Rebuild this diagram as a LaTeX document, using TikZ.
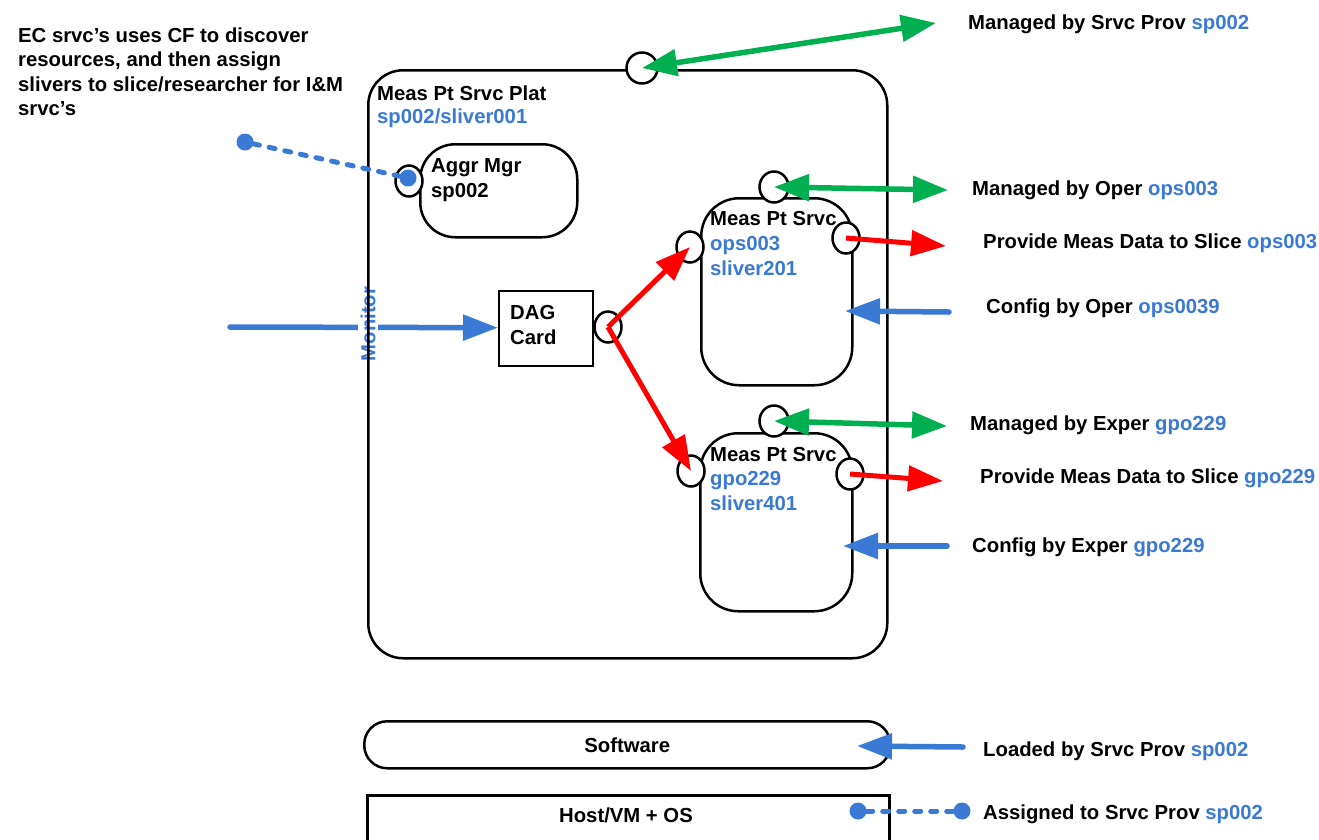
\documentclass[tikz,border=0pt]{standalone}
\usepackage{fontspec}
\setmainfont{Liberation Sans}
\usetikzlibrary{arrows.meta,shapes.geometric}
\definecolor{myblue}{RGB}{58,122,212}
\definecolor{mygreen}{RGB}{0,176,80}
\definecolor{myred}{RGB}{255,0,0}
\begin{document}
\begin{tikzpicture}[x=1pt,y=-1pt,
  lbl/.style={anchor=base west, inner sep=0, font=\fontsize{20.3}{24}\selectfont\bfseries},
  bl/.style={text=myblue},
  box/.style={draw, line width=2.5pt, rounded corners=35pt, inner sep=0, anchor=north west},
  port/.style={draw, fill=white, ellipse, line width=2.5pt, minimum width=27pt, minimum height=31pt, inner sep=0},
  garr/.style={draw=mygreen, line width=5.5pt, {Triangle[length=35pt,width=26pt]}-{Triangle[length=35pt,width=26pt]}},
  rarr/.style={draw=myred, line width=5pt, -{Triangle[length=35pt,width=25pt]}},
  barr/.style={draw=myblue, line width=5.5pt, line cap=round, -{Triangle[length=35pt,width=25pt]}},
  dots/.style={draw=myblue, line width=5pt, line cap=round, dash pattern=on 6pt off 10pt},
  dotend/.style={circle, fill=myblue, minimum size=17pt, inner sep=0},
]
\useasboundingbox (0,0) rectangle (1319,839);
\clip (0,0) rectangle (1319,839);
\fill[white] (0,0) rectangle (1319,839);

% monitor input arrow
\coordinate (monStart) at (230,327);
\node[draw=none, inner sep=0, minimum width=94pt, minimum height=75pt, anchor=north west] (dag) at (498,290) {};
\draw[barr] (monStart) -- (dag.west);
\node[rotate=90, fill=white, inner sep=3pt, text=myblue, font=\fontsize{20.3}{24}\selectfont\bfseries] (mon) at (368,324) {Monitor};

% boxes
\node[box, minimum width=519pt, minimum height=588pt] (main) at (367,69) {};
\node[box, minimum width=157pt, minimum height=93pt] (aggr) at (419,143) {};
\node[box, rounded corners=38pt, minimum width=151pt, minimum height=187pt] (mps1) at (700,197) {};
\node[box, rounded corners=38pt, minimum width=152pt, minimum height=178pt] (mps2) at (699,432) {};
\node[draw, line width=2.2pt, inner sep=0, minimum width=94pt, minimum height=75pt, anchor=north west] (dagbox) at (498,290) {};
\node[box, rounded corners=23pt, minimum width=526pt, minimum height=47pt, font=\fontsize{20.3}{24}\selectfont\bfseries] (sw) at (363,720) {Software};
\node[draw, line width=2.5pt, inner sep=0, minimum width=522pt, minimum height=70pt, anchor=north west] (host) at (366,794) {};
\node[font=\fontsize{20.3}{24}\selectfont\bfseries, inner sep=0] (hostlbl) at (626,815) {Host/VM + OS};

% ports
\node[port, minimum width=31pt] (cTop) at (642,68) {};
\node[port] (cAggr) at (409,181) {};
\node[port, minimum width=29pt] (c1top) at (774,187) {};
\node[port] (c1left) at (690,247) {};
\node[port] (c1right) at (846,238) {};
\node[port, minimum width=29pt] (c2top) at (774,421) {};
\node[port] (c2left) at (691,471) {};
\node[port] (c2right) at (850,474) {};
\node[port] (cDag) at (608,327) {};

% free ends
\coordinate (gTopEnd) at (936,23);
\coordinate (g1End) at (948,190);
\coordinate (g2End) at (947,426);
\coordinate (r1End) at (946,246);
\coordinate (r2End) at (943,481);
\coordinate (b1Start) at (949,312);
\coordinate (b1End) at (845,311);
\coordinate (b2Start) at (947,546);
\coordinate (b2End) at (843,546);
\coordinate (b3Start) at (963,747);
\coordinate (b3End) at (857,746);

% connectors
\draw[garr] (cTop.center) -- (gTopEnd);
\draw[garr] (c1top.center) -- (g1End);
\draw[garr] (c2top.center) -- (g2End);
\draw[rarr] (c1right.center) -- (r1End);
\draw[rarr] (c2right.center) -- (r2End);
\draw[rarr] (cDag.center) -- (c1left.center);
\draw[rarr] (cDag.center) -- (c2left.center);
\draw[barr] (b1Start) -- (b1End);
\draw[barr] (b2Start) -- (b2End);
\draw[barr] (b3Start) -- (b3End);

% dotted assignments
\node[dotend] (dA1) at (245,142) {};
\node[dotend] (dA2) at (408,178) {};
\draw[dots] (dA1) -- (dA2);
\node[dotend] (dH1) at (858,811) {};
\node[dotend] (dH2) at (962,811) {};
\draw[dots] (dH1) -- (dH2);

% labels
\node[lbl] (t1) at (18,42) {EC srvc’s uses CF to discover};
\node[lbl] (t2) at (18,66) {resources, and then assign};
\node[lbl] (t3) at (18,91) {slivers to slice/researcher for I\&M};
\node[lbl] (t4) at (18,115) {srvc’s};

\node[lbl] (tPlat) at (377,100) {Meas Pt Srvc Plat};
\node[lbl, bl] (tPlatId) at (377,123) {sp002/sliver001};
\node[lbl] (tAggr) at (431,172) {Aggr Mgr};
\node[lbl] (tAggrId) at (431,197) {sp002};
\node[lbl] (tM1a) at (710,225) {Meas Pt Srvc};
\node[lbl, bl] (tM1b) at (710,250) {ops003};
\node[lbl, bl] (tM1c) at (710,275) {sliver201};
\node[lbl] (tDag1) at (510,319) {DAG};
\node[lbl] (tDag2) at (510,344) {Card};
\node[lbl] (tM2a) at (710,461) {Meas Pt Srvc};
\node[lbl, bl] (tM2b) at (710,485) {gpo229};
\node[lbl, bl] (tM2c) at (710,510) {sliver401};

\node[lbl] (r1) at (968,29) {Managed by Srvc Prov \textcolor{myblue}{sp002}};
\node[lbl] (r2) at (972,195) {Managed by Oper \textcolor{myblue}{ops003}};
\node[lbl] (r3) at (983,248) {Provide Meas Data to Slice \textcolor{myblue}{ops003}};
\node[lbl] (r4) at (986,313) {Config by Oper \textcolor{myblue}{ops0039}};
\node[lbl] (r5) at (970,430) {Managed by Exper \textcolor{myblue}{gpo229}};
\node[lbl] (r6) at (980,483) {Provide Meas Data to Slice \textcolor{myblue}{gpo229}};
\node[lbl] (r7) at (972,552) {Config by Exper \textcolor{myblue}{gpo229}};
\node[lbl] (r8) at (983,756) {Loaded by Srvc Prov \textcolor{myblue}{sp002}};
\node[lbl] (r9) at (983,819) {Assigned to Srvc Prov \textcolor{myblue}{sp002}};
\end{tikzpicture}
\end{document}
